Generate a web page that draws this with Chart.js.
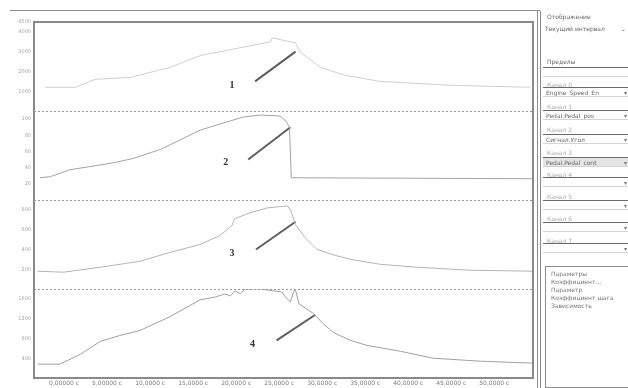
<!DOCTYPE html>
<html>
<head>
<meta charset="utf-8">
<script src="https://cdn.jsdelivr.net/npm/chart.js@4.4.1/dist/chart.umd.min.js"></script>
<style>
html, body { margin: 0; padding: 0; background: #fff; }
body { width: 628px; height: 388px; position: relative; overflow: hidden; font-family: "DejaVu Sans", sans-serif; }
#chartBox { position: absolute; left: 0; top: 0; width: 541px; height: 388px; }
#topLine { position: absolute; left: 10px; top: 10px; width: 530px; border-top: 1px solid #8c8c8c; }
#panel { position: absolute; left: 537px; top: 11px; width: 88px; height: 377px; border-left: 4px double #8c8c8c; }
.lbl { position: absolute; left: 6px; font-size: 6px; line-height: 6px; color: #aaa; white-space: nowrap; }
.lbl.dark { color: #666; }
.sel { position: absolute; left: 2px; width: 86px; height: 10px; box-sizing: border-box; border-top: 1px solid #6a6a6a; border-bottom: 1px solid #d4d4d4; font-size: 6px; line-height: 9px; color: #666; padding-left: 3px; white-space: nowrap; overflow: hidden; }
.sel span { position: absolute; right: 2px; top: 0; color: #777; }
.sel.on { background: #e4e4e4; }
#list { position: absolute; left: 4px; top: 255px; width: 84px; height: 122px; box-sizing: border-box; border: 1px solid #8c8c8c; border-right: none; padding: 3px 0 0 5px; }
#list div { font-size: 6px; line-height: 8px; color: #777; white-space: nowrap; }
</style>
</head>
<body>
<div id="topLine"></div>
<div id="chartBox"><canvas id="traceChart" width="541" height="388"></canvas></div>
<div id="panel">
  <div class="lbl dark" style="top:3px">Отображение</div>
  <div class="lbl dark" style="top:15px;left:4px">Текущий интервал <span style="margin-left:14px">⌄</span></div>
  <div class="lbl dark" style="top:48px">Пределы</div>
  <div class="sel" style="top:56px"></div>
  <div class="lbl" style="top:71px">Канал 0</div>
  <div class="sel" style="top:76px">Engine_Speed_En<span>▾</span></div>
  <div class="lbl" style="top:93px">Канал 1</div>
  <div class="sel" style="top:99px">Pedal.Pedal_pos<span>▾</span></div>
  <div class="lbl" style="top:116px">Канал 2</div>
  <div class="sel" style="top:123px">Сигнал.Угол<span>▾</span></div>
  <div class="lbl" style="top:139px">Канал 3</div>
  <div class="sel on" style="top:146px">Pedal.Pedal_cont<span>▾</span></div>
  <div class="lbl" style="top:161px">Канал 4</div>
  <div class="sel" style="top:166px"><span>▾</span></div>
  <div class="lbl" style="top:183px">Канал 5</div>
  <div class="sel" style="top:189px"><span>▾</span></div>
  <div class="lbl" style="top:205px">Канал 6</div>
  <div class="sel" style="top:211px"><span>▾</span></div>
  <div class="lbl" style="top:227px">Канал 7</div>
  <div class="sel" style="top:232px"><span>▾</span></div>
  <div id="list">
    <div>Параметры</div>
    <div>Коэффициент...</div>
    <div>Параметр</div>
    <div>Коэффициент шага</div>
    <div>Зависимость</div>
  </div>
</div>
<script>
// time axis (s)
const xTickValues = [0, 5, 10, 15, 20, 25, 30, 35, 40, 45, 50];
const xTickLabels = ['0,00000 с', '5,00000 с', '10,0000 с', '15,0000 с', '20,0000 с', '25,0000 с',
                     '30,0000 с', '35,0000 с', '40,0000 с', '45,0000 с', '50,0000 с'];

// pane ticks
const yTicks1 = [1000, 2000, 3000, 4000, 4500];
const yTicks2 = [20, 40, 60, 80, 100];
const yTicks3 = [200, 400, 600, 800];
const yTicks4 = [400, 800, 1200, 1600];

// trace 1 - engine speed
const trace1T = [-2.2, 1.3, 3.6, 7.7, 12.3, 15.8, 20.5, 24.0, 24.2, 25.7, 26.9, 27.4, 29.8, 32.7, 36.7, 44.9, 54.2];
const trace1V = [1200, 1200, 1600, 1700, 2200, 2800, 3200, 3500, 3700, 3550, 3450, 3000, 2200, 1800, 1500, 1300, 1200];

// trace 2 - pedal position
const trace2T = [-2.8, -1.6, 0.7, 3.0, 5.9, 8.0, 11.2, 15.8, 18.1, 20.8, 22.8, 25.1, 25.8, 26.2, 26.4, 54.5];
const trace2V = [27.5, 28.8, 37.5, 41.3, 46.3, 51.3, 62.5, 86.3, 93.8, 102.5, 105, 103.8, 97.5, 90, 27.5, 26.3];

// trace 3
const trace3T = [-3.1, -0.1, 4.2, 8.8, 12.3, 15.8, 18.1, 19.5, 19.8, 21.6, 23.6, 26.0, 26.4, 26.9, 28.0, 29.4, 31.5, 33.3, 36.7, 41.0, 47.2, 54.5];
const trace3V = [180, 170, 220, 280, 370, 450, 540, 640, 710, 770, 820, 840, 780, 650, 520, 400, 340, 300, 250, 220, 190, 180];

// trace 4
const trace4T = [-3.1, -0.5, 1.9, 4.2, 6.5, 8.8, 12.3, 15.8, 17.6, 18.7, 19.3, 19.9, 20.5, 21.0, 22.8, 25.3, 25.8, 26.3, 26.7, 26.9, 27.3, 28.0, 29.0, 30.1, 31.3, 33.3, 35.2, 39.1, 42.9, 48.4, 54.5];
const trace4V = [280, 280, 480, 740, 860, 960, 1240, 1580, 1640, 1700, 1660, 1760, 1700, 1800, 1800, 1740, 1620, 1540, 1760, 1780, 1500, 1420, 1300, 1100, 920, 760, 660, 540, 400, 340, 300];

// callout numbers and their pointer lines
const calloutText = ['1', '2', '3', '4'];
const calloutT = [19.5, 18.8, 19.5, 21.9];
const calloutV = [1300, 46.3, 360, 680];
const pointerT = [[22.2, 26.9], [21.4, 26.3], [22.3, 26.9], [24.7, 29.2]];
const pointerV = [[1500, 3000], [50, 90], [400, 680], [760, 1280]];

const paneIds = ['y1', 'y2', 'y3', 'y4'];

function pts(ts, vs) {
    return ts.map((t, i) => ({ x: t, y: vs[i] }));
}

function traceSet(ts, vs, axis, color) {
    return { data: pts(ts, vs), yAxisID: axis, borderColor: color, borderWidth: 1, pointRadius: 0, tension: 0 };
}

const datasets = [
    traceSet(trace1T, trace1V, 'y1', '#cfcfcf'),
    traceSet(trace2T, trace2V, 'y2', '#a3a3a3'),
    traceSet(trace3T, trace3V, 'y3', '#b4b4b4'),
    traceSet(trace4T, trace4V, 'y4', '#a0a0a0')
];
pointerT.forEach((ts, i) => {
    datasets.push({ data: pts(ts, pointerV[i]), yAxisID: paneIds[i], borderColor: '#5e5e5e', borderWidth: 2, pointRadius: 0 });
});

function paneAxis(min, max, ticks) {
    return {
        type: 'linear', position: 'left', stack: 'panes', stackWeight: 1,
        min: min, max: max,
        grid: { display: false, drawTicks: false }, border: { display: false },
        afterBuildTicks: s => { s.ticks = ticks.map(v => ({ value: v })); },
        afterFit: s => { s.width = 34; },
        ticks: { font: { size: 5, family: 'DejaVu Sans' }, color: '#a5a5a5', padding: 3, callback: v => String(v) }
    };
}

// frame, dotted pane separators, callout numbers
const decor = {
    id: 'decor',
    afterDatasetsDraw(chart) {
        const ctx = chart.ctx;
        const a = chart.chartArea;
        const xs = chart.scales.x;
        ctx.save();
        ctx.strokeStyle = '#9a9a9a';
        ctx.lineWidth = 1;
        ctx.setLineDash([2, 2]);
        paneIds.slice(1).forEach(id => {
            const y = Math.round(chart.scales[id].top) + 0.5;
            ctx.beginPath();
            ctx.moveTo(a.left, y);
            ctx.lineTo(a.right, y);
            ctx.stroke();
        });
        ctx.setLineDash([]);
        ctx.strokeStyle = '#8a8a8a';
        ctx.lineWidth = 2;
        ctx.strokeRect(a.left, a.top, a.right - a.left, a.bottom - a.top);
        ctx.fillStyle = '#333';
        ctx.font = 'bold 10px "Liberation Serif"';
        ctx.textAlign = 'center';
        ctx.textBaseline = 'middle';
        calloutText.forEach((txt, i) => {
            const ys = chart.scales[paneIds[i]];
            ctx.fillText(txt, xs.getPixelForValue(calloutT[i]), ys.getPixelForValue(calloutV[i]));
        });
        ctx.restore();
    }
};

new Chart(document.getElementById('traceChart'), {
    type: 'line',
    data: { datasets: datasets },
    options: {
        responsive: false,
        animation: false,
        devicePixelRatio: 1,
        layout: { padding: { top: 22, right: 8, left: 0, bottom: 0 } },
        plugins: { legend: { display: false }, tooltip: { enabled: false } },
        scales: {
            x: {
                type: 'linear', min: -3.5, max: 54.5,
                grid: { display: false, drawTicks: false }, border: { display: false },
                afterBuildTicks: s => { s.ticks = xTickValues.map(v => ({ value: v })); },
                afterFit: s => { s.height = 10; },
                ticks: {
                    font: { size: 6, family: 'DejaVu Sans' }, color: '#7c7c7c', padding: 2,
                    maxRotation: 0, autoSkip: false,
                    callback: (v, i) => xTickLabels[i]
                }
            },
            // stacked panes are laid out bottom-up, so the lowest pane comes first
            y4: paneAxis(0, 1800, yTicks4),
            y3: paneAxis(0, 900, yTicks3),
            y2: paneAxis(0, 110, yTicks2),
            y1: paneAxis(0, 4500, yTicks1)
        }
    },
    plugins: [decor]
});
</script>
</body>
</html>
